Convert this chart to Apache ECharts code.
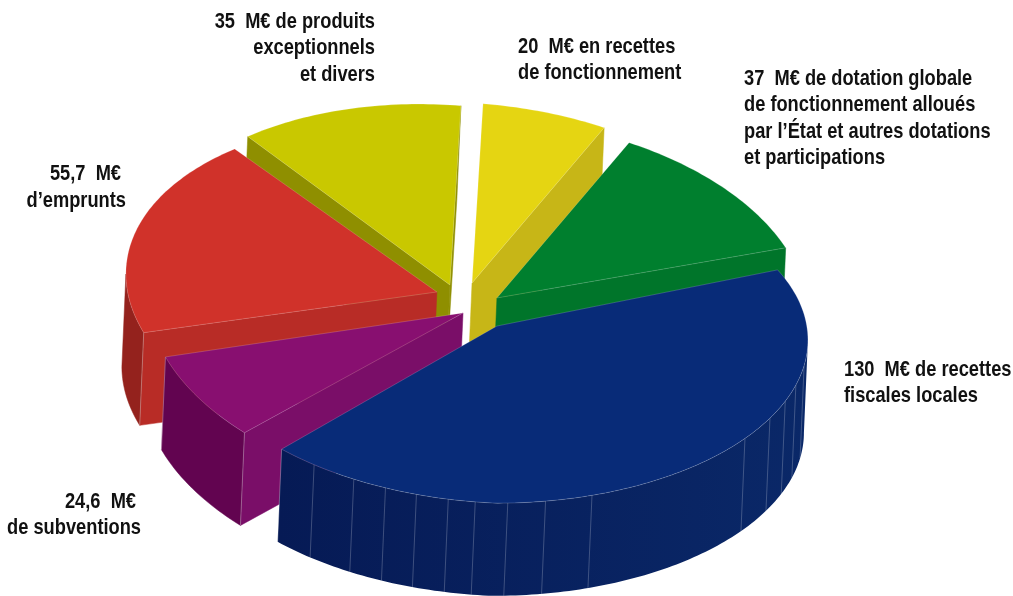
<!DOCTYPE html>
<html lang="fr">
<head>
<meta charset="utf-8">
<style>html,body{margin:0;padding:0;background:#fff}#c{width:1013px;height:596px}</style>
<script src="https://cdn.jsdelivr.net/npm/echarts@6/dist/echarts.min.js"></script>
</head>
<body>
<div id="c"></div>
<script>
// ---- data (counter-clockwise from the right-hand edge of the green slice) ----
const categories = ["Dotations", "Recettes de fonctionnement", "Produits exceptionnels et divers", "Emprunts", "Subventions", "Recettes fiscales locales"];
const values = [37, 20, 35, 55.7, 24.6, 130];

// ---- labels ----
const labelLines = [
  "35  M€ de produits", "exceptionnels", "et divers",
  "20  M€ en recettes", "de fonctionnement",
  "37  M€ de dotation globale", "de fonctionnement alloués", "par l’État et autres dotations", "et participations",
  "130  M€ de recettes", "fiscales locales",
  "55,7  M€", "d’emprunts",
  "24,6  M€", "de subventions"
];
const labelX = [375,375,375, 518,518, 744,744,744,744, 844,844, 121,126, 136,141];
const labelY = [22,48,75, 47,73, 79,105,132,158, 370,396, 174,201, 502,528];
const labelAlign = ["right","right","right","left","left","left","left","left","left","left","left","right","right","right","right"];

// ---- styles and 3D layout ----
const topColors  = ["#007f2e", "#e5d512", "#c9c800", "#d0322a", "#880f70", "#082b78"];
const sideColors = ["#00752a", "#c7b617", "#8f8f00", "#b82c26", "#7a0e68", "#082060"];
const rimColors  = ["#00652a", "#b5a510", "#7d7d00", "#94221d", "#620450", "#071d5c"];
const explodeX = [0.093, 0.013, -0.058, -0.100, -0.016, 0.093];
const explodeY = [0.054, 0.129, 0.111, 0.068, -0.040, -0.102];
const startAngle = 21;
// view-distortion of each slice's leading edge, and of the last slice's closing edge (degrees)
const edgeNudge = [0.8, -0.2, -0.9, 0, 2.6, 0];
const closeNudge = 4.5;
// per-slice rim ellipse adjustment (the near slice looks flatter through the perspective)
const rimScaleX = [1, 1, 1, 1, 1.015, 1];
const rimScaleY = [1, 1, 1, 0.96, 1.02, 0.906];
const rimShiftY = [0, 0, 0, 0, 0, -0.078];
const shearLeft  = [0.1, 0.1, 0.1, 0.1, 0.1, 0.069];
const shearRight = [0.1, 0.1, 0.1, 0.1, 0.1, 0];
const baseShear = 0.1;
const depthX = -0.0129, depthY = -0.515;
const seamAngles = [234, 242.6, 249, 255, 261, 266, 272, 279, 287.8, 322.9, 331.4, 338, 344, 351];
const paintOrder = [2, 1, 0, 3, 4, 5];

const total = values.reduce((a, b) => a + b, 0);
const baseAngles = [];
values.reduce((acc, v, i) => { baseAngles[i] = acc; return acc + v / total * 360; }, startAngle);
const edgeAngles = baseAngles.map((a, i) => a + edgeNudge[i]);
edgeAngles.push(startAngle + 360 + closeNudge);

const rad = d => d * Math.PI / 180;

function renderSlice(params, api) {
  const i = api.value(0);
  const a0 = edgeAngles[i];
  const a1 = edgeAngles[i + 1];
  const ox = explodeX[i], oy = explodeY[i];
  // rx, ry = point relative to the slice's own apex, in unit-disc coordinates
  const proj = (rx, ry, down) => {
    const sh = rx < 0 ? shearLeft[i] : shearRight[i];
    const x = ox + rx + (down ? depthX : 0);
    const y = oy + ry - baseShear * ox - sh * rx + (down ? depthY : 0);
    return api.coord([x, y]);
  };
  const rimPt = (deg, down) => proj(rimScaleX[i] * Math.cos(rad(deg)), rimShiftY[i] + rimScaleY[i] * Math.sin(rad(deg)), down);
  const apex = proj(0, 0, false), apexD = proj(0, 0, true);
  const children = [];
  const poly = (points, fill) => children.push({ type: 'polygon', shape: { points }, style: { fill, stroke: fill, lineWidth: 0.5 } });
  const line = (p, q, op) => children.push({ type: 'line', shape: { x1: p[0], y1: p[1], x2: q[0], y2: q[1] }, style: { stroke: 'rgba(255,255,255,' + op + ')', lineWidth: 0.8 } });

  // radial side walls: keep those whose outward side faces the viewer
  const mid = rimPt((a0 + a1) / 2, false);
  [a0, a1].forEach(a => {
    const e = rimPt(a, false);
    const vx = e[0] - apex[0], vy = e[1] - apex[1];
    const crossMid = vx * (mid[1] - apex[1]) - vy * (mid[0] - apex[0]);
    const crossDown = vx * 1;
    if (crossMid * crossDown < 0) {
      poly([apex, e, rimPt(a, true), apexD], sideColors[i]);
    }
  });

  // outer rim wall on the front half
  const lo = Math.max(a0, 180), hi = Math.min(a1, 360);
  if (hi > lo) {
    const pts = [], back = [];
    for (let d = lo; d <= hi; d += 1) { pts.push(rimPt(d, false)); back.unshift(rimPt(d, true)); }
    pts.push(rimPt(hi, false)); back.unshift(rimPt(hi, true));
    const fill = i === 5
      ? new echarts.graphic.LinearGradient(0, 0, 1, 0, [{ offset: 0, color: '#061a55' }, { offset: 1, color: '#0a2868' }])
      : rimColors[i];
    children.push({ type: 'polygon', shape: { points: pts.concat(back) }, style: { fill, stroke: i === 5 ? null : fill, lineWidth: 0.5 } });
    if (i === 5) {
      seamAngles.forEach(s => line(rimPt(s, false), rimPt(s, true), 0.28));
    }
    if (a0 > 180 && a0 < 360) line(rimPt(a0, false), rimPt(a0, true), 0.4);
    if (a1 > 180 && a1 < 360 && i !== 5) line(rimPt(a1, false), rimPt(a1, true), 0.4);
  }

  // top face
  const top = [apex];
  for (let d = a0; d < a1; d += 1) top.push(rimPt(d, false));
  top.push(rimPt(a1, false));
  children.push({ type: 'polygon', shape: { points: top }, style: { fill: topColors[i], stroke: 'rgba(255,255,255,0.22)', lineWidth: 0.8 } });

  return { type: 'group', children };
}

const chart = echarts.init(document.getElementById('c'), null, { renderer: 'canvas' });
chart.setOption({
  animation: false,
  backgroundColor: '#ffffff',
  // unit-disc axes: -1..1 spans the pie's ellipse; centre at (468, 306)
  grid: { left: 157, top: 126, width: 622, height: 360, containLabel: false },
  xAxis: { type: 'value', min: -1, max: 1, show: false },
  yAxis: { type: 'value', min: -1, max: 1, show: false },
  series: [{
    type: 'custom',
    coordinateSystem: 'cartesian2d',
    clip: false,
    silent: true,
    renderItem: renderSlice,
    data: paintOrder.map(i => ({ name: categories[i], value: [i, values[i]] }))
  }],
  graphic: labelLines.map((text, k) => ({
    type: 'text',
    silent: true,
    x: labelX[k],
    y: labelY[k],
    scaleX: 0.83,
    style: {
      text,
      x: 0,
      y: 0,
      textAlign: labelAlign[k],
      textVerticalAlign: 'middle',
      font: 'bold 22px "Liberation Sans", Arial, sans-serif',
      fill: '#111111'
    }
  }))
});
</script>
</body>
</html>
